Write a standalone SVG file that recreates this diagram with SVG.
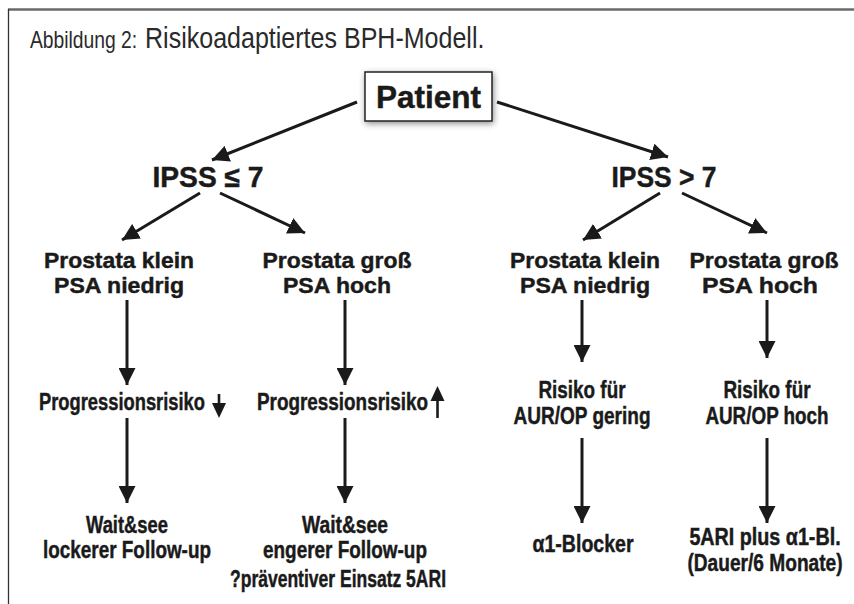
<svg xmlns="http://www.w3.org/2000/svg" width="854" height="604" viewBox="0 0 854 604">
<defs>
<marker id="ah" viewBox="0 0 10 10" refX="10" refY="5" markerUnits="userSpaceOnUse" markerWidth="17" markerHeight="17" orient="auto">
<path d="M0,0 L10,5 L0,10 z" fill="#1a1a1a"/>
</marker>
<filter id="sh" x="-20%" y="-30%" width="140%" height="160%">
<feGaussianBlur in="SourceAlpha" stdDeviation="3"/>
<feOffset dx="1" dy="2" result="b"/>
<feComponentTransfer><feFuncA type="linear" slope="0.45"/></feComponentTransfer>
<feMerge><feMergeNode/><feMergeNode in="SourceGraphic"/></feMerge>
</filter>
<style>
.t{font-family:"Liberation Sans",Arial,sans-serif;font-weight:bold;fill:#1a1a1a;stroke:#1a1a1a;stroke-width:0.45px;text-anchor:middle;font-size:22.5px}
.s{font-size:23.5px}
.h{font-size:29px}
.p{font-size:31px}
.ti{font-family:"Liberation Sans",Arial,sans-serif;fill:#2a2a2a}
.c{stroke:#1a1a1a;stroke-width:3;fill:none;marker-end:url(#ah)}
</style>
</defs>
<rect width="854" height="604" fill="#fff"/>
<g id="frame">
<line x1="8" y1="9.5" x2="854" y2="9.5" stroke="#6a6a6a" stroke-width="2.5"/>
<line x1="8.5" y1="9" x2="8.5" y2="604" stroke="#333" stroke-width="1.3"/>
</g>
<g id="title">
<text class="ti" transform="translate(30,48) scale(0.8,1)" font-size="24" textLength="134" lengthAdjust="spacingAndGlyphs">Abbildung 2:</text>
<text class="ti" transform="translate(145,48) scale(0.855,1)" font-size="29" textLength="397" lengthAdjust="spacingAndGlyphs">Risikoadaptiertes BPH-Modell.</text>
</g>
<g id="connectors">
<line class="c" x1="357" y1="102" x2="212" y2="160"/>
<line class="c" x1="497" y1="102" x2="668" y2="157"/>
<line class="c" x1="200" y1="193" x2="122" y2="240"/>
<line class="c" x1="220" y1="193" x2="305" y2="233"/>
<line class="c" x1="660" y1="193" x2="583" y2="240"/>
<line class="c" x1="682" y1="193" x2="767" y2="233"/>
<line class="c" x1="127" y1="300" x2="127" y2="385"/>
<line class="c" x1="345" y1="300" x2="345" y2="385"/>
<line class="c" x1="582" y1="300" x2="582" y2="362"/>
<line class="c" x1="767" y1="300" x2="767" y2="358"/>
<line class="c" x1="127" y1="418" x2="127" y2="503"/>
<line class="c" x1="345" y1="418" x2="345" y2="503"/>
<line class="c" x1="582" y1="438" x2="582" y2="523"/>
<line class="c" x1="767" y1="438" x2="767" y2="523"/>
</g>
<g id="patient">
<rect x="365" y="72" width="127" height="49" fill="#fff" stroke="#222" stroke-width="1.5" filter="url(#sh)"/>
<text class="t p" x="428.5" y="108" textLength="105" lengthAdjust="spacingAndGlyphs">Patient</text>
</g>
<g id="ipss-low">
<text class="t h" x="208" y="187" textLength="111" lengthAdjust="spacingAndGlyphs">IPSS ≤ 7</text>
</g>
<g id="ipss-high">
<text class="t h" x="664" y="187" textLength="105" lengthAdjust="spacingAndGlyphs">IPSS &gt; 7</text>
</g>
<g id="low-small">
<text class="t" x="119" y="268" textLength="150" lengthAdjust="spacingAndGlyphs">Prostata klein</text>
<text class="t" x="119" y="293" textLength="130" lengthAdjust="spacingAndGlyphs">PSA niedrig</text>
</g>
<g id="low-large">
<text class="t" x="337" y="268" textLength="149" lengthAdjust="spacingAndGlyphs">Prostata groß</text>
<text class="t" x="337" y="293" textLength="108" lengthAdjust="spacingAndGlyphs">PSA hoch</text>
</g>
<g id="high-small">
<text class="t" x="585" y="268" textLength="150" lengthAdjust="spacingAndGlyphs">Prostata klein</text>
<text class="t" x="585" y="293" textLength="130" lengthAdjust="spacingAndGlyphs">PSA niedrig</text>
</g>
<g id="high-large">
<text class="t" x="764" y="268" textLength="149" lengthAdjust="spacingAndGlyphs">Prostata groß</text>
<text class="t" x="760" y="293" textLength="116" lengthAdjust="spacingAndGlyphs">PSA hoch</text>
</g>
<g id="prog-low">
<text class="t s" x="122" y="410" textLength="166" lengthAdjust="spacingAndGlyphs">Progressionsrisiko</text>
<path d="M219,394 V406" stroke="#1a1a1a" stroke-width="2.6"/>
<path d="M212,403 L226,403 L219,418 z" fill="#1a1a1a"/>
</g>
<g id="prog-high">
<text class="t s" x="342.5" y="410" textLength="171" lengthAdjust="spacingAndGlyphs">Progressionsrisiko</text>
<path d="M437.5,398 V418" stroke="#1a1a1a" stroke-width="2.6"/>
<path d="M430.5,401 L444.5,401 L437.5,386 z" fill="#1a1a1a"/>
</g>
<g id="risk-low">
<text class="t s" x="582" y="398" textLength="87" lengthAdjust="spacingAndGlyphs">Risiko für</text>
<text class="t s" x="582" y="424" textLength="137" lengthAdjust="spacingAndGlyphs">AUR/OP gering</text>
</g>
<g id="risk-high">
<text class="t s" x="767" y="398" textLength="87" lengthAdjust="spacingAndGlyphs">Risiko für</text>
<text class="t s" transform="translate(767,424) scale(0.8,1)" textLength="154" lengthAdjust="spacingAndGlyphs">AUR/OP hoch</text>
</g>
<g id="wait-loose">
<text class="t s" x="127" y="533" textLength="82" lengthAdjust="spacingAndGlyphs">Wait&amp;see</text>
<text class="t s" x="127" y="558" textLength="168" lengthAdjust="spacingAndGlyphs">lockerer Follow-up</text>
</g>
<g id="wait-close">
<text class="t s" x="345" y="533" textLength="86" lengthAdjust="spacingAndGlyphs">Wait&amp;see</text>
<text class="t s" x="345" y="558" textLength="164" lengthAdjust="spacingAndGlyphs">engerer Follow-up</text>
<text class="t s" x="338" y="587" textLength="216" lengthAdjust="spacingAndGlyphs">?präventiver Einsatz 5ARI</text>
</g>
<g id="alpha-blocker">
<text class="t s" x="583" y="552" textLength="101" lengthAdjust="spacingAndGlyphs">α1-Blocker</text>
</g>
<g id="combo">
<text class="t s" transform="translate(765,545) scale(0.8,1)" textLength="189" lengthAdjust="spacingAndGlyphs">5ARI plus α1-Bl.</text>
<text class="t s" transform="translate(765,571) scale(0.8,1)" textLength="194" lengthAdjust="spacingAndGlyphs">(Dauer/6 Monate)</text>
</g>
</svg>
